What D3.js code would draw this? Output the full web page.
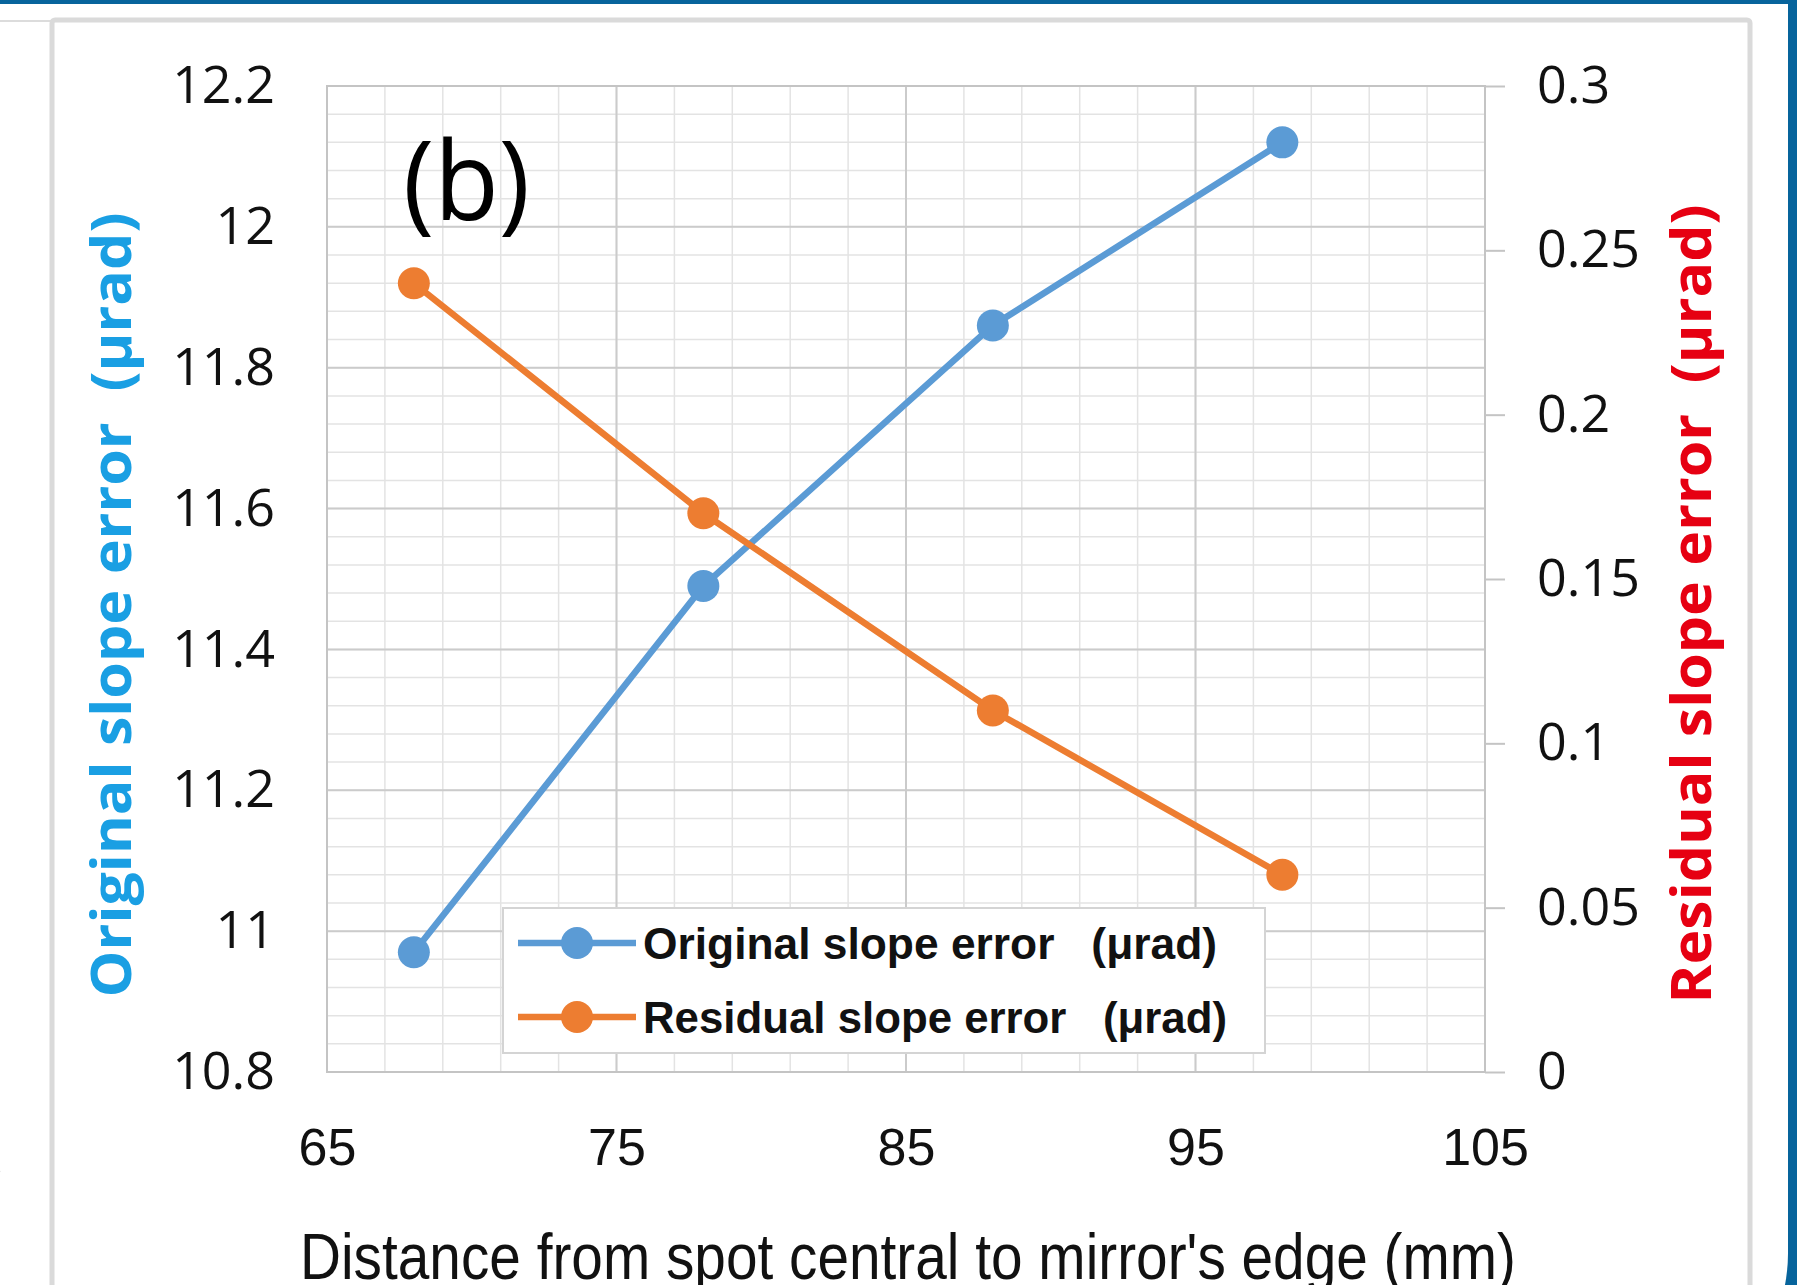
<!DOCTYPE html>
<html>
<head>
<meta charset="utf-8">
<script src="https://cdn.jsdelivr.net/npm/d3@7"></script>
<style>
body { margin: 0; background: #fff; }
svg { display: block; }
</style>
</head>
<body>
<script>
// slope error vs spot distance, panel (b)

(function(){

//values
var distances = [68, 78, 88, 98]; //mm
var originalError = [10.97, 11.49, 11.86, 12.12]; //left axis (urad)
var residualError = [0.24, 0.17, 0.11, 0.06]; //right axis (urad)

//tick labels
var xTicks = [65, 75, 85, 95, 105];
var leftTicks = [10.8, 11, 11.2, 11.4, 11.6, 11.8, 12, 12.2];
var rightTicks = [0, 0.05, 0.1, 0.15, 0.2, 0.25, 0.3];

//series names + colours
var seriesNames = ["Original slope error\u00a0\u00a0\u00a0(\u03bcrad)", "Residual slope error\u00a0\u00a0\u00a0(\u03bcrad)"];
var seriesColors = ["#5b9bd5", "#ed7d31"];

window.onload = drawChart();

function drawChart(){
    var width = 1797,
        height = 1285;

    //plot area box
    var plot = {left: 327, right: 1485, top: 86, bottom: 1072};

    var svg = d3.select("body")
        .append("svg")
        .attr("width", width)
        .attr("height", height);

    //blue frame round the page, white card inside it
    svg.append("rect")
        .attr("width", width)
        .attr("height", height)
        .attr("fill", "#07649c");
    svg.append("path")
        .attr("d", "M0,4 H1788 V1253 A170,170 0 0 1 1618,1423 H0 Z")
        .attr("fill", "#fff");

    //bit of the neighbour panel poking in at the left edge
    svg.append("text")
        .attr("x", -14)
        .attr("y", 1185)
        .style("font-family", "Liberation Sans")
        .style("font-size", "52px")
        .text(")");

    //excel chart area border
    svg.append("line")
        .attr("x1", 0).attr("x2", 52)
        .attr("y1", 21).attr("y2", 21)
        .attr("stroke", "#dcdcdc")
        .attr("stroke-width", 2);
    svg.append("rect")
        .attr("x", 52)
        .attr("y", 20)
        .attr("width", 1698)
        .attr("height", 1320)
        .attr("rx", 3)
        .attr("fill", "#fff")
        .attr("stroke", "#dadada")
        .attr("stroke-width", 5);

    //scales
    var x = d3.scaleLinear()
        .domain([65, 105])
        .range([plot.left, plot.right]);
    var yLeft = d3.scaleLinear()
        .domain([10.8, 12.2])
        .range([plot.bottom, plot.top]);
    var yRight = d3.scaleLinear()
        .domain([0, 0.3])
        .range([plot.bottom, plot.top]);

    drawGrid(svg, x, yLeft);

    //plot area border
    svg.append("rect")
        .attr("x", plot.left)
        .attr("y", plot.top)
        .attr("width", plot.right - plot.left)
        .attr("height", plot.bottom - plot.top)
        .attr("fill", "none")
        .attr("stroke", "#c4c4c4")
        .attr("stroke-width", 2);

    drawAxes(svg, x, yLeft, yRight, plot);

    //panel label
    svg.append("text")
        .attr("x", 403)
        .attr("y", 220)
        .attr("textLength", 127)
        .attr("lengthAdjust", "spacingAndGlyphs")
        .style("font-family", "Open Sans")
        .style("font-size", "110px")
        .text("(b)");

    drawSeries(svg, x, yLeft, originalError, seriesColors[0]);
    drawSeries(svg, x, yRight, residualError, seriesColors[1]);

    drawLegend(svg);
};

function drawGrid(svg, x, yLeft){
    //minor lines every 2 mm and every 0.04 urad, majors on the ticks
    var minorX = d3.range(65, 105.001, 2);
    var minorY = d3.range(0, 36).map(function(i){ return 10.8 + i * 0.04; });

    var grid = svg.append("g").attr("class", "grid");

    grid.selectAll(".minorx")
        .data(minorX)
        .enter()
        .append("line")
        .attr("x1", function(d){ return x(d); })
        .attr("x2", function(d){ return x(d); })
        .attr("y1", yLeft(10.8))
        .attr("y2", yLeft(12.2))
        .attr("stroke", "#e3e3e3")
        .attr("stroke-width", 1.5);

    grid.selectAll(".minory")
        .data(minorY)
        .enter()
        .append("line")
        .attr("x1", x(65))
        .attr("x2", x(105))
        .attr("y1", function(d){ return yLeft(d); })
        .attr("y2", function(d){ return yLeft(d); })
        .attr("stroke", "#e3e3e3")
        .attr("stroke-width", 1.5);

    grid.selectAll(".majorx")
        .data(xTicks)
        .enter()
        .append("line")
        .attr("x1", function(d){ return x(d); })
        .attr("x2", function(d){ return x(d); })
        .attr("y1", yLeft(10.8))
        .attr("y2", yLeft(12.2))
        .attr("stroke", "#cbcbcb")
        .attr("stroke-width", 2);

    grid.selectAll(".majory")
        .data(leftTicks)
        .enter()
        .append("line")
        .attr("x1", x(65))
        .attr("x2", x(105))
        .attr("y1", function(d){ return yLeft(d); })
        .attr("y2", function(d){ return yLeft(d); })
        .attr("stroke", "#cbcbcb")
        .attr("stroke-width", 2);
};

function drawAxes(svg, x, yLeft, yRight, plot){
    var left = svg.append("g")
        .attr("transform", "translate(" + plot.left + ",0)")
        .call(d3.axisLeft(yLeft)
            .tickValues(leftTicks)
            .tickSize(0)
            .tickPadding(52)
            .tickFormat(function(d){ return String(d); }));

    var right = svg.append("g")
        .attr("transform", "translate(" + plot.right + ",0)")
        .call(d3.axisRight(yRight)
            .tickValues(rightTicks)
            .tickSizeInner(20)
            .tickSizeOuter(0)
            .tickPadding(32)
            .tickFormat(function(d){ return String(d); }));

    var bottom = svg.append("g")
        .attr("transform", "translate(0," + plot.bottom + ")")
        .call(d3.axisBottom(x)
            .tickValues(xTicks)
            .tickSize(0)
            .tickPadding(56));

    [left, right, bottom].forEach(function(g){
        g.select(".domain").remove();
        g.selectAll("line")
            .attr("stroke", "#c4c4c4")
            .attr("stroke-width", 2);
        g.selectAll("text")
            .attr("fill", "#111")
            .style("font-size", "52px");
    });
    left.selectAll("text").style("font-family", "Open Sans");
    right.selectAll("text").style("font-family", "Open Sans");
    bottom.selectAll("text").style("font-family", "Liberation Sans");

    //axis titles
    svg.append("text")
        .attr("transform", "translate(131,605) rotate(-90)")
        .attr("text-anchor", "middle")
        .attr("textLength", 785)
        .attr("lengthAdjust", "spacingAndGlyphs")
        .attr("fill", "#1a9fe3")
        .style("font-family", "Open Sans")
        .style("font-weight", "bold")
        .style("font-size", "56px")
        .text("Original slope error\u00a0\u00a0(\u03bcrad)");

    svg.append("text")
        .attr("transform", "translate(1711,604) rotate(-90)")
        .attr("text-anchor", "middle")
        .attr("textLength", 799)
        .attr("lengthAdjust", "spacingAndGlyphs")
        .attr("fill", "#e60012")
        .style("font-family", "Open Sans")
        .style("font-weight", "bold")
        .style("font-size", "56px")
        .text("Residual slope error\u00a0\u00a0(\u03bcrad)");

    //x title sits partly below the photo edge, as in the original crop
    svg.append("text")
        .attr("x", 908)
        .attr("y", 1279)
        .attr("text-anchor", "middle")
        .attr("textLength", 1216)
        .attr("lengthAdjust", "spacingAndGlyphs")
        .attr("fill", "#111")
        .style("font-family", "Liberation Sans")
        .style("font-size", "65px")
        .text("Distance from spot central to mirror's edge (mm)");
};

function drawSeries(svg, x, y, values, color){
    var line = d3.line()
        .x(function(d, i){ return x(distances[i]); })
        .y(function(d){ return y(d); });

    svg.append("path")
        .datum(values)
        .attr("d", line)
        .attr("fill", "none")
        .attr("stroke", color)
        .attr("stroke-width", 6.5);

    svg.selectAll(null)
        .data(values)
        .enter()
        .append("circle")
        .attr("cx", function(d, i){ return x(distances[i]); })
        .attr("cy", function(d){ return y(d); })
        .attr("r", 16)
        .attr("fill", color);
};

function drawLegend(svg){
    var box = {x: 503, y: 908, w: 762, h: 145};
    var rowY = [943, 1017];
    var textLen = [574, 584];

    var legend = svg.append("g").attr("class", "legend");

    legend.append("rect")
        .attr("x", box.x)
        .attr("y", box.y)
        .attr("width", box.w)
        .attr("height", box.h)
        .attr("fill", "#fff")
        .attr("stroke", "#d4d4d4")
        .attr("stroke-width", 2);

    var rows = legend.selectAll(".row")
        .data(seriesNames)
        .enter()
        .append("g")
        .attr("transform", function(d, i){ return "translate(0," + rowY[i] + ")"; });

    rows.append("line")
        .attr("x1", 518)
        .attr("x2", 636)
        .attr("stroke", function(d, i){ return seriesColors[i]; })
        .attr("stroke-width", 6.5);

    rows.append("circle")
        .attr("cx", 577)
        .attr("r", 16)
        .attr("fill", function(d, i){ return seriesColors[i]; });

    rows.append("text")
        .attr("x", 643)
        .attr("y", 16)
        .attr("textLength", function(d, i){ return textLen[i]; })
        .attr("lengthAdjust", "spacingAndGlyphs")
        .attr("fill", "#111")
        .style("font-family", "Liberation Sans")
        .style("font-weight", "bold")
        .style("font-size", "44px")
        .text(function(d){ return d; });
};

})();
</script>
</body>
</html>
